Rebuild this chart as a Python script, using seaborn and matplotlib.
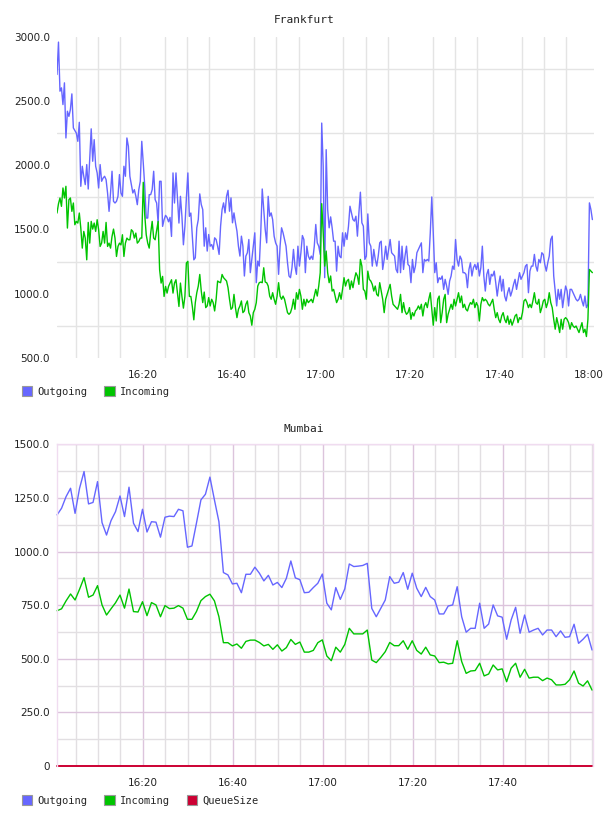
import matplotlib
matplotlib.use("Agg")
import numpy as np
import pandas as pd
import matplotlib.pyplot as plt
import matplotlib.dates as mdates
from matplotlib.patches import Patch
import seaborn as sns

# ---------------- Frankfurt (20 s samples, 16:00:50 -> 18:01:10) ----------------
frankfurt_start = "2024-01-01 16:00:50"
frankfurt_step = "20s"

fra_out_1 = [2706, 2958, 2576, 2602, 2472, 2641, 2212, 2420, 2380, 2433, 2555, 2290, 2270, 2250, 2186, 2334,
             1836, 1992, 1914, 1849, 2005, 1815, 2050, 2283, 2031, 2199, 1992, 1940, 1823, 2005, 1875, 1900,
             1914, 1888, 1784, 1641, 1784, 1953, 1719, 1706, 1719, 1758, 1927, 1784, 1758, 1992, 1914, 2212,
             2147, 1914, 1850, 1784, 1810, 1760, 1693, 1810, 1875, 2186, 2018, 1836, 1589, 1589, 1771, 1771,
             1810, 1953, 1732, 1706, 1550, 1875, 1875, 1524, 1576, 1610, 1594, 1560, 1594, 1446, 1940, 1706,
             1940, 1745, 1550, 1758, 1602, 1381, 1524, 1745, 1940, 1602, 1628, 1446, 1264]
fra_out_2 = [1280, 1513, 1577, 1777, 1694, 1655, 1370, 1513, 1332, 1461,
             1370, 1383, 1345, 1435, 1422, 1370, 1306, 1526, 1655, 1707,
             1629, 1758, 1805, 1642, 1746, 1552, 1629, 1552, 1487, 1370,
             1293, 1448, 1370, 1138, 1293, 1319, 1422, 1164, 1267, 1370,
             1474, 1086, 1254, 1215, 1474, 1815, 1655, 1500, 1396, 1758,
             1603, 1629, 1577, 1448, 1396, 1370, 1151, 1370, 1513, 1474,
             1422, 1370, 1241, 1138, 1125, 1202, 1345, 1215, 1151, 1370,
             1215, 1319, 1453, 1422, 1164, 1370, 1293, 1267, 1293, 1267,
             1370, 1539, 1396, 1370, 1306, 2328, 1991, 1125, 2121, 1655]
fra_out_3 = [1513, 1598, 1513, 1409, 1409, 1176, 1370, 1293,
             1280, 1474, 1370, 1474, 1422, 1526, 1681, 1629, 1577,
             1565, 1603, 1448, 1629, 1790, 1552, 1526, 1267,
             1293, 1621, 1396, 1370, 1215, 1345, 1267, 1215, 1293,
             1396, 1409, 1189, 1267, 1370, 1267, 1345, 1422, 1319, 1306,
             1293, 1189, 1164, 1409, 1164, 1370, 1189, 1293, 1370,
             1228, 1215, 1086, 1267, 1164, 1215, 1319, 1345, 1370,
             1396, 1164, 1267, 1254, 1267, 1254, 1474, 1753, 1474,
             1164, 1241, 1086, 1125, 1112, 1138, 1034, 1112, 1060, 995,
             1099, 1138, 1215, 1189, 1422, 1267, 1215, 1293, 1267,
             1164, 1164]
fra_out_4 = [1151, 1047, 1189, 1241, 1138, 1202, 1228, 1189,
             1241, 1138, 1202, 1370, 1138, 1021, 1151, 1189, 1073,
             1151, 1138, 1176, 1086, 982, 1073, 1138, 1021,
             1112, 982, 944, 1008, 1047, 982, 1021, 1073, 1112,
             1034, 1099, 1164, 1112, 1138, 1164, 1215, 1228, 1008,
             1176, 1215, 1215, 1306, 1215, 1176, 1267, 1241, 1319,
             1306, 1228, 1176, 1241, 1293, 1422, 1448, 1138, 1021,
             905, 1034, 957, 1034, 892, 982, 1060, 1021, 905, 1034,
             1034, 1008, 982, 957, 944, 957, 995, 944, 905,
             982, 892, 918, 1707, 1655, 1577]

fra_in_1 = [1628, 1700, 1745, 1680, 1823, 1745, 1836, 1511, 1732, 1745, 1641, 1706, 1537, 1563, 1550, 1628,
            1511, 1355, 1485, 1433, 1264, 1555, 1394, 1563, 1503, 1550, 1485, 1576, 1498, 1368, 1394, 1485,
            1394, 1555, 1368, 1394, 1355, 1446, 1503, 1433, 1290, 1368, 1394, 1380, 1459, 1290, 1394, 1433,
            1420, 1420, 1498, 1485, 1433, 1472, 1394, 1407, 1433, 1433, 1867, 1615, 1459, 1394, 1355, 1472,
            1563, 1433, 1420, 1490, 1563, 1187, 1083, 1135, 979, 1057, 1005, 1057, 1083, 1109, 1005, 1083,
            1109, 1005, 901, 1083, 979, 888, 979, 1239, 1252, 979, 979, 901, 797]
fra_in_2 = [931, 1008, 1060, 1150, 1021, 931, 1013, 892,
            905, 970, 905, 957, 931, 866, 957, 1099,
            1091, 1086, 1150, 1125, 1112, 1099, 1047, 957,
            879, 892, 995, 892, 814, 879, 905, 944, 853,
            866, 918, 944, 853, 827, 755, 853, 879, 931, 1060,
            1086, 1091, 1086, 1202, 1091, 1086, 1060, 982, 957, 1008,
            957, 918, 982, 1086, 982, 957, 982, 957, 905, 853,
            840, 853, 892, 957, 879, 1008, 957, 1034, 982, 879,
            957, 905, 957, 931, 944, 957, 931, 982, 1034, 982,
            1060, 1163, 1701, 1474, 1215, 1332, 1163]
fra_in_3 = [1086, 1138, 1021, 1034, 982, 931, 957, 1008,
            957, 1034, 1125, 1060, 1099, 1112, 1034, 1099, 1047,
            1112, 1163, 1138, 1073, 1267, 1215, 1034, 1021,
            957, 1176, 1112, 1099, 1073, 1021, 1060, 995, 982,
            1086, 1021, 957, 853, 957, 995, 1034, 1073, 982, 918,
            905, 892, 879, 918, 995, 853, 931, 866,
            840, 853, 892, 801, 853, 827, 866, 879, 905,
            879, 918, 827, 905, 931, 892, 957, 1008, 879,
            755, 892, 788, 957, 982, 775, 853, 957, 995, 775,
            840, 879, 918, 879, 957, 905, 957, 1008, 931, 982,
            892, 918]
fra_in_4 = [879, 866, 905, 931, 918, 957, 892, 931,
            905, 788, 918, 970, 944, 957, 944, 918, 905,
            931, 957, 879, 814, 853, 801, 775, 827,
            853, 801, 775, 827, 762, 801, 755, 788, 827,
            840, 775, 814, 801, 853, 944, 957, 931, 892,
            918, 892, 944, 1008, 931, 918, 957, 853, 892,
            944, 957, 892, 931, 1008, 931, 892, 801, 724,
            814, 762, 698, 801, 724, 801, 814, 801, 775, 724,
            775, 749, 737, 749, 724, 698, 737, 775, 698,
            724, 667, 801, 1189, 1176, 1164]

fra_yticks = [500, 1000, 1500, 2000, 2500, 3000]
fra_ygrid = [750, 1250, 1750, 2250, 2750]
fra_xticks = ["16:20", "16:40", "17:00", "17:20", "17:40", "18:00"]

# ---------------- Mumbai (1 min samples) ----------------
mumbai_start = "2024-01-01 16:00:54"
mumbai_step = "60s"

mum_out = [1171, 1202, 1256, 1295, 1178, 1295, 1373, 1222, 1229, 1326,
           1135, 1077, 1144, 1186, 1259, 1163, 1300, 1132, 1093, 1197,
           1091, 1139, 1137, 1067, 1160, 1165, 1163, 1197, 1190, 1020,
           1026, 1132, 1241, 1267, 1347, 1241, 1139, 902, 891, 849,
           852, 808, 894, 894, 927, 899, 863, 889, 844, 856,
           832, 875, 956, 877, 869, 808, 810, 832, 852, 895,
           759, 728, 832, 777, 826, 942, 930, 932, 935, 945,
           735, 696, 735, 774, 883, 852, 857, 902, 824, 899,
           829, 790, 833, 790, 774, 709, 709, 746, 751, 836,
           696, 624, 642, 642, 759, 642, 662, 751, 700, 694,
           591, 681, 740, 619, 704, 624, 634, 642, 611, 634,
           634, 603, 630, 600, 603, 661, 572, 591, 614, 541]
mum_in = [724, 733, 770, 802, 774, 824, 878, 787, 797, 841,
          751, 704, 733, 761, 797, 736, 825, 720, 718, 766,
          701, 762, 751, 696, 748, 734, 736, 748, 736, 684,
          684, 720, 771, 790, 801, 770, 696, 575, 575, 560,
          569, 549, 581, 587, 587, 576, 560, 567, 544, 565,
          536, 552, 590, 567, 578, 531, 531, 539, 575, 588,
          513, 491, 554, 531, 567, 642, 616, 616, 616, 634,
          494, 482, 506, 533, 576, 561, 561, 584, 544, 584,
          539, 522, 554, 518, 513, 482, 484, 476, 479, 584,
          487, 432, 443, 445, 479, 420, 429, 471, 448, 453,
          393, 456, 479, 414, 451, 410, 414, 414, 398, 410,
          402, 378, 378, 381, 402, 443, 386, 373, 397, 354]
mum_queue = [0] * 120

mum_yticks = [0, 250, 500, 750, 1000, 1250, 1500]
mum_ylabels = ["0", "250.0", "500.0", "750.0", "1000.0", "1250.0", "1500.0"]
mum_xticks = ["16:20", "16:40", "17:00", "17:20", "17:40"]

C_OUT, C_IN, C_Q = "#6666ff", "#00c400", "#cc0033"

# ---------------- build frames ----------------
fra_out = fra_out_1 + fra_out_2 + fra_out_3 + fra_out_4
fra_in = fra_in_1 + fra_in_2 + fra_in_3 + fra_in_4
n = min(len(fra_out), len(fra_in))
fra = pd.DataFrame({
    "time": pd.date_range(frankfurt_start, periods=n, freq=frankfurt_step),
    "Outgoing": fra_out[:n],
    "Incoming": fra_in[:n],
})
mum = pd.DataFrame({
    "time": pd.date_range(mumbai_start, periods=len(mum_out), freq=mumbai_step),
    "Outgoing": mum_out,
    "Incoming": mum_in,
    "QueueSize": mum_queue,
})

sns.set_style("white")
plt.rcParams["font.family"] = ["DejaVu Sans"]

W, H = 608, 816
fig = plt.figure(figsize=(6.08, 8.16), dpi=100)
L, R1, R2 = 57, 593.5, 592.5
ax1 = fig.add_axes([L / W, (H - 358) / H, (R1 - L) / W, (358 - 36.7) / H])
ax2 = fig.add_axes([L / W, (H - 766) / H, (R2 - L) / W, (766 - 444.3) / H])

day = "2024-01-01 "
def ts(s):
    return pd.Timestamp(day + s)

tick_font = dict(fontsize=7.5, color="#222222")

# ---------------- Frankfurt ----------------
ax = ax1
ax.set_axisbelow(True)
for sp in ax.spines.values():
    sp.set_visible(False)
sns.lineplot(data=fra, x="time", y="Outgoing", color=C_OUT, linewidth=1.0, ax=ax, legend=False)
sns.lineplot(data=fra, x="time", y="Incoming", color=C_IN, linewidth=1.0, ax=ax, legend=False)
ax.set_xlim(ts("16:00:50"), ts("18:01:05"))
ax.set_ylim(500, 3000)
ax.set_yticks(fra_yticks)
ax.set_yticklabels([f"{v:.1f}" for v in fra_yticks], **tick_font)
ax.set_yticks(fra_ygrid, minor=True)
ax.set_xticks([ts(t) for t in fra_xticks])
ax.set_xticklabels(fra_xticks, **tick_font)
ax.xaxis.set_minor_locator(mdates.MinuteLocator(byminute=range(0, 60, 5)))
ax.grid(False)
ax.grid(which="minor", color="#e4e4e4", linewidth=1.0)
ax.tick_params(which="both", length=0)
ax.tick_params(axis="x", pad=9)
ax.tick_params(axis="y", pad=5)
ax.set_xlabel("")
ax.set_ylabel("")

# ---------------- Mumbai ----------------
ax = ax2
ax.set_axisbelow(True)
for side in ["left", "right", "top"]:
    ax.spines[side].set_color("#f0dcf0")
    ax.spines[side].set_linewidth(1.0)
ax.spines["bottom"].set_visible(False)
sns.lineplot(data=mum, x="time", y="Outgoing", color=C_OUT, linewidth=1.0, ax=ax, legend=False)
sns.lineplot(data=mum, x="time", y="Incoming", color=C_IN, linewidth=1.0, ax=ax, legend=False)
sns.lineplot(data=mum, x="time", y="QueueSize", color=C_Q, linewidth=1.4, ax=ax, legend=False)
ax.set_xlim(ts("16:00:53"), ts("18:00:00"))
ax.set_ylim(0, 1500)
for l in ax.lines:
    l.set_clip_on(False)
ax.set_yticks(mum_yticks)
ax.set_yticklabels(mum_ylabels, **tick_font)
ax.set_yticks([125 + 250 * i for i in range(6)], minor=True)
ax.set_xticks([ts(t) for t in mum_xticks])
ax.set_xticklabels(mum_xticks, **tick_font)
ax.xaxis.set_minor_locator(mdates.MinuteLocator(byminute=range(0, 60, 5)))
ax.grid(which="major", color="#dcc4dc", linewidth=1.0)
ax.grid(which="minor", color="#e2dfe2", linewidth=1.0)
ax.tick_params(which="both", length=0)
ax.tick_params(axis="x", pad=9)
ax.tick_params(axis="y", pad=5)
ax.set_xlabel("")
ax.set_ylabel("")

# ---------------- titles & legends ----------------
mono = "DejaVu Sans Mono"
fig.text(0.5, (H - 20) / H, "Frankfurt", ha="center", va="center", family=mono, fontsize=8, color="#222222")
fig.text(0.5, (H - 429) / H, "Mumbai", ha="center", va="center", family=mono, fontsize=8, color="#222222")

def patch(c):
    return Patch(facecolor=c, edgecolor="#999999", linewidth=0.8)

leg_kw = dict(loc="center left", ncol=3, frameon=False, handlelength=1.0, handleheight=1.0,
              handletextpad=0.5, columnspacing=1.6, borderaxespad=0, borderpad=0,
              prop={"family": mono, "size": 7.5})
fig.legend([patch(C_OUT), patch(C_IN)], ["Outgoing", "Incoming"],
           bbox_to_anchor=(22 / W, (H - 391.5) / H), **leg_kw)
fig.legend([patch(C_OUT), patch(C_IN), patch(C_Q)], ["Outgoing", "Incoming", "QueueSize"],
           bbox_to_anchor=(22 / W, (H - 800.5) / H), **leg_kw)

fig.savefig("out.png", dpi=100, facecolor="white")
